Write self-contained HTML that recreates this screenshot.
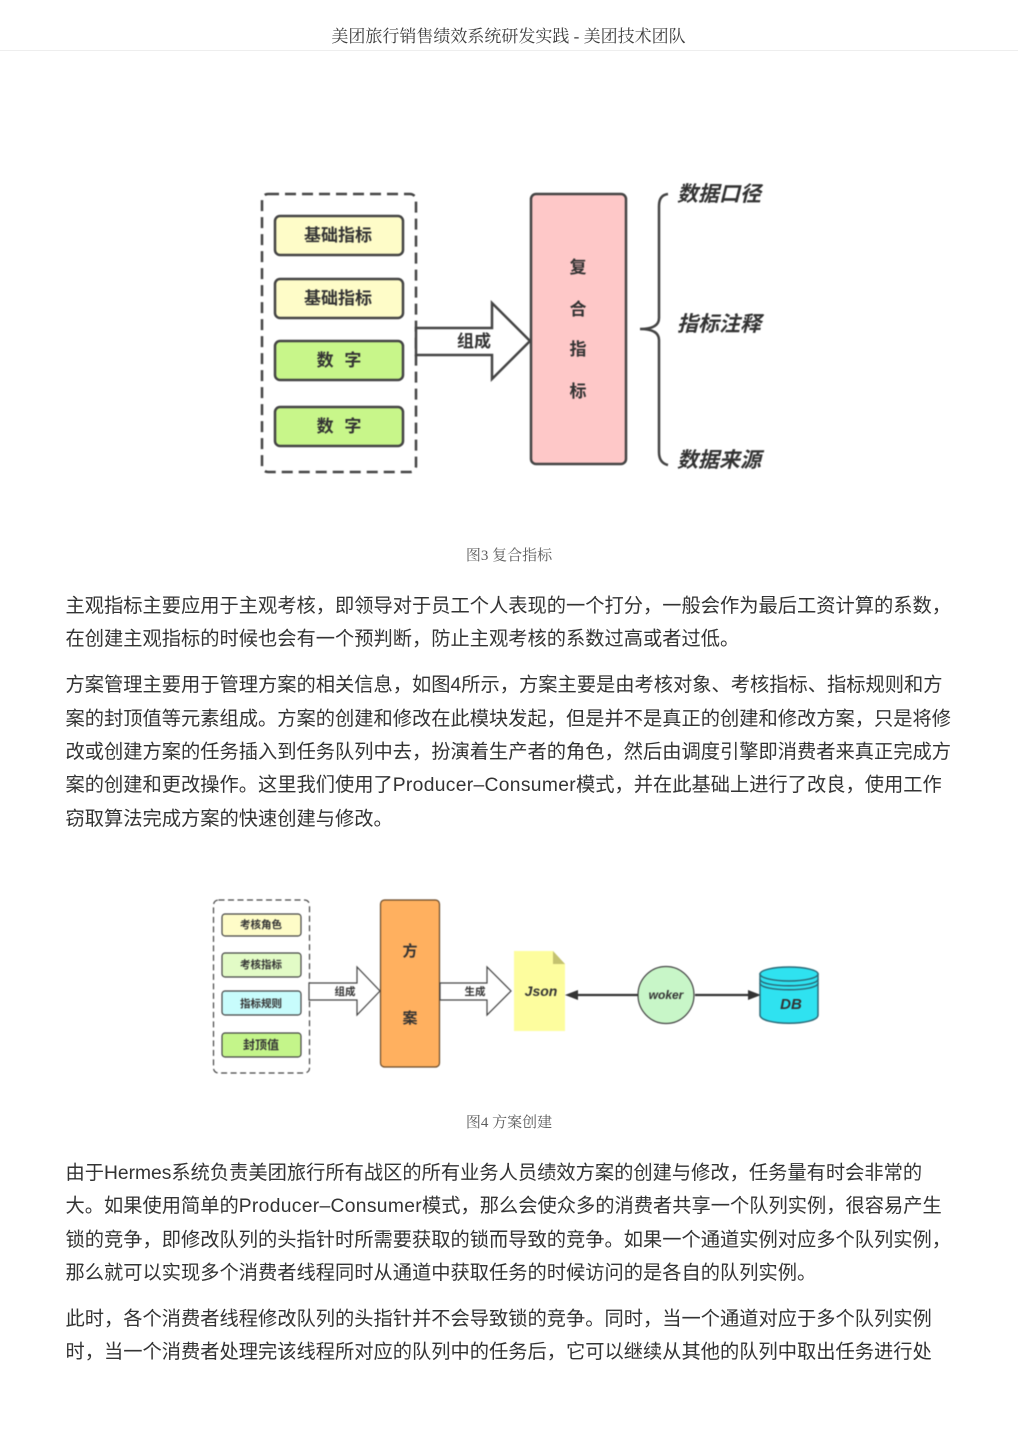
<!DOCTYPE html>
<html lang="zh"><head><meta charset="utf-8"><style>
html,body{margin:0;padding:0;background:#fff;width:1018px;height:1440px;overflow:hidden}
.p{position:absolute;left:65.500px;white-space:nowrap;font:19.25px/34px "Liberation Sans","WenQuanYi Zen Hei","Noto Sans CJK SC",sans-serif;color:#333;height:34px}
.p span{letter-spacing:.33px}
.c{position:absolute;left:0;width:1018px;text-align:center;white-space:nowrap;font-family:"Liberation Serif","Noto Serif CJK SC",serif}
svg{position:absolute;left:0;top:0;filter:blur(.5px)}
svg text{font-family:"Liberation Sans","Noto Sans CJK SC",sans-serif;text-anchor:middle;font-weight:700;fill:#333}
</style></head><body>
<div class="c" style="top:25px;left:-.5px;font-size:17px;line-height:24px;color:#3c3c3c">美团旅行销售绩效系统研发实践 - 美团技术团队</div>
<div style="position:absolute;left:0;top:50px;width:1018px;height:1px;background:#eee"></div>
<svg width="1018" height="1440" viewBox="0 0 1018 1440">
<g stroke="#444" stroke-width="2.5">
<rect x="262" y="194" width="154" height="278" rx="6" fill="#fff" stroke-dasharray="11 6"/>
<rect x="275" y="216" width="128" height="39" rx="5" fill="#fefcc8"/>
<rect x="275" y="279" width="128" height="39" rx="5" fill="#fefcc8"/>
<rect x="275" y="341" width="128" height="39" rx="5" fill="#c8f68a"/>
<rect x="275" y="407" width="128" height="39" rx="5" fill="#c8f68a"/>
<rect x="531" y="194" width="95" height="270" rx="5" fill="#fec8c8"/>
<path d="M416 328H492V303L530 341 492 379V355H416Z" fill="#fff"/>
<path d="M668 194Q659 195 659 206V318Q659 329 640 329Q659 329 659 340V452Q659 463 668 465" fill="none"/>
</g>
<g font-size="17">
<text x="338" y="241">基础指标</text><text x="338" y="304">基础指标</text>
<text x="339" y="366" word-spacing="6">数 字</text><text x="339" y="432" word-spacing="6">数 字</text>
<text x="474" y="347">组成</text>
<text x="578" y="273">复</text><text x="578" y="315">合</text><text x="578" y="355">指</text><text x="578" y="397">标</text>
</g>
<g font-size="21" font-style="italic">
<text x="719" y="201">数据口径</text><text x="719" y="331">指标注释</text><text x="719" y="467">数据来源</text>
</g>
<g stroke="#444" stroke-width="1.200">
<rect x="213.500" y="900" width="96" height="173" rx="5" fill="#fff" stroke-dasharray="6 3.500"/>
<rect x="222" y="914" width="79" height="22" rx="3" fill="#fefcc8"/>
<rect x="222" y="953" width="79" height="24" rx="3" fill="#e2fbc6"/>
<rect x="222" y="991" width="79" height="24" rx="3" fill="#c8fcfc"/>
<rect x="222" y="1033" width="79" height="24" rx="3" fill="#c4f58a"/>
<rect x="380.500" y="900" width="59" height="167" rx="4" fill="#ffb05f" stroke="#6a4a28"/>
<path d="M309 983H357V967L380 991 357 1015V1000H309Z" fill="#fff"/>
<path d="M440 983H487V967L511 991 487 1015V1000H440Z" fill="#fff"/>
<ellipse cx="666" cy="995" rx="28" ry="28.500" fill="#c8f6c8"/>
</g>
<path d="M514 951H553L565 964V1031H514Z" fill="#fdfd9e"/>
<path d="M553 951L565 964H553Z" fill="#c4c270"/>
<g stroke="#333" stroke-width="2.200" fill="#333">
<path d="M638 995H576" fill="none"/><path d="M565 995L578 990V1000Z" stroke="none"/>
<path d="M695 995H750" fill="none"/><path d="M761 995L748 990V1000Z" stroke="none"/>
</g>
<g stroke="#2a6a78" stroke-width="1.500">
<path d="M760 974V1015C760 1026 818 1026 818 1015V974Z" fill="#2fe2f0"/>
<ellipse cx="789" cy="974" rx="29" ry="7" fill="#2fe2f0"/>
<path d="M760 979C760 988 818 988 818 979M760 983C760 992 818 992 818 983" fill="none"/>
</g>
<g font-size="10.500"><text x="261" y="928">考核角色</text><text x="261" y="968">考核指标</text><text x="261" y="1007">指标规则</text><text x="261" y="1049" font-size="12">封顶值</text>
<text x="345" y="995">组成</text><text x="475" y="995">生成</text></g>
<text x="410" y="956" font-size="15">方</text><text x="410" y="1023" font-size="15">案</text>
<g font-style="italic"><text x="541" y="996" font-size="14">Json</text><text x="666" y="999" font-size="12">woker</text><text x="791" y="1009" font-size="15">DB</text></g>
</svg>
<div class="c" style="top:545px;font-size:15px;line-height:22px;color:#5c5c5c">图3 复合指标</div>
<div class="c" style="top:1112px;font-size:15px;line-height:22px;color:#5c5c5c">图4 方案创建</div>
<div class="p" style="top:590px">主观指标主要应用于主观考核，即领导对于员工个人表现的一个打分，一般会作为最后工资计算的系数，</div>
<div class="p" style="top:623px">在创建主观指标的时候也会有一个预判断，防止主观考核的系数过高或者过低。</div>
<div class="p" style="top:669px">方案管理主要用于管理方案的相关信息，如图4所示，方案主要是由考核对象、考核指标、指标规则和方</div>
<div class="p" style="top:703px">案的封顶值等元素组成。方案的创建和修改在此模块发起，但是并不是真正的创建和修改方案，只是将修</div>
<div class="p" style="top:736px">改或创建方案的任务插入到任务队列中去，扮演着生产者的角色，然后由调度引擎即消费者来真正完成方</div>
<div class="p" style="top:769px">案的创建和更改操作。这里我们使用了<span>Producer–Consumer</span>模式，并在此基础上进行了改良，使用工作</div>
<div class="p" style="top:803px">窃取算法完成方案的快速创建与修改。</div>
<div class="p" style="top:1157px">由于Hermes系统负责美团旅行所有战区的所有业务人员绩效方案的创建与修改，任务量有时会非常的</div>
<div class="p" style="top:1190px">大。如果使用简单的<span>Producer–Consumer</span>模式，那么会使众多的消费者共享一个队列实例，很容易产生</div>
<div class="p" style="top:1224px">锁的竞争，即修改队列的头指针时所需要获取的锁而导致的竞争。如果一个通道实例对应多个队列实例，</div>
<div class="p" style="top:1257px">那么就可以实现多个消费者线程同时从通道中获取任务的时候访问的是各自的队列实例。</div>
<div class="p" style="top:1303px">此时，各个消费者线程修改队列的头指针并不会导致锁的竞争。同时，当一个通道对应于多个队列实例</div>
<div class="p" style="top:1336px">时，当一个消费者处理完该线程所对应的队列中的任务后，它可以继续从其他的队列中取出任务进行处</div>
</body></html>
